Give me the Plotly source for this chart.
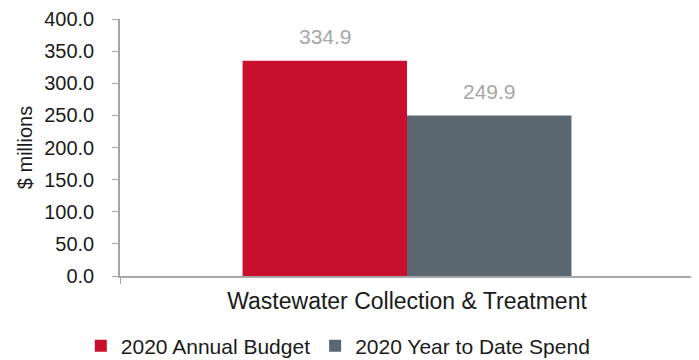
import plotly.graph_objects as go

categories = ["Wastewater Collection & Treatment"]
budget = [334.9]
spend = [249.9]
series_names = ["2020 Annual Budget", "2020 Year to Date Spend"]
y_ticks = [0, 50, 100, 150, 200, 250, 300, 350, 400]

FONT = "Liberation Sans, Arial, sans-serif"
RED = "#C8102E"
GRAY = "#5B6770"
AXIS = "#A6A6A6"
LABEL = "#A6A6A6"
TEXT = "#1a1a1a"

# page body has an 8px default margin; figure sized to fit the 699x360 window
W, H = 691, 352

fig = go.Figure()
for name, vals, col in [(series_names[0], budget, RED), (series_names[1], spend, GRAY)]:
    fig.add_trace(go.Bar(
        x=categories, y=vals, name=name,
        marker=dict(color=col, line=dict(width=0)),
        hoverinfo="skip",
    ))

# data labels above bars (grouped offset of half a bar width)
bar_half = 82
for vals, shift in [(budget, -bar_half), (spend, bar_half)]:
    for c, v in zip(categories, vals):
        fig.add_annotation(
            x=c, y=v, xref="x", yref="y", text=f"{v:.1f}", showarrow=False,
            xshift=shift, yshift=24, yanchor="middle",
            font=dict(family=FONT, size=21, color=LABEL),
        )

fig.update_layout(
    width=W, height=H,
    margin=dict(l=112, r=5, t=11, b=84, autoexpand=False),
    paper_bgcolor="white", plot_bgcolor="white",
    barmode="group", bargap=0.427, bargroupgap=0,
    font=dict(family=FONT, size=18, color=TEXT),
    showlegend=True,
    legend=dict(orientation="h", xref="container", yref="container",
                x=0.478, xanchor="center", y=0.0398, yanchor="middle",
                font=dict(family=FONT, size=21, color=TEXT),
                itemwidth=30, traceorder="normal"),
)
fig.update_xaxes(
    type="category", showline=True, linecolor=AXIS, linewidth=1.5,
    ticks="outside", tickson="boundaries", tickcolor=AXIS, ticklen=6,
    ticklabelstandoff=4,
    tickfont=dict(family=FONT, size=23, color=TEXT), showgrid=False,
)
fig.update_yaxes(
    range=[0, 400], tickvals=y_ticks, tickformat=".1f",
    showline=True, linecolor=AXIS, linewidth=1.5,
    ticks="outside", tickcolor=AXIS, ticklen=6, ticklabelstandoff=14,
    ticklabeloverflow="allow",
    tickfont=dict(family=FONT, size=20, color=TEXT), showgrid=False, zeroline=False,
    title=dict(text="$ millions", font=dict(family=FONT, size=20, color=TEXT), standoff=6),
)

fig.write_html("out.html")
